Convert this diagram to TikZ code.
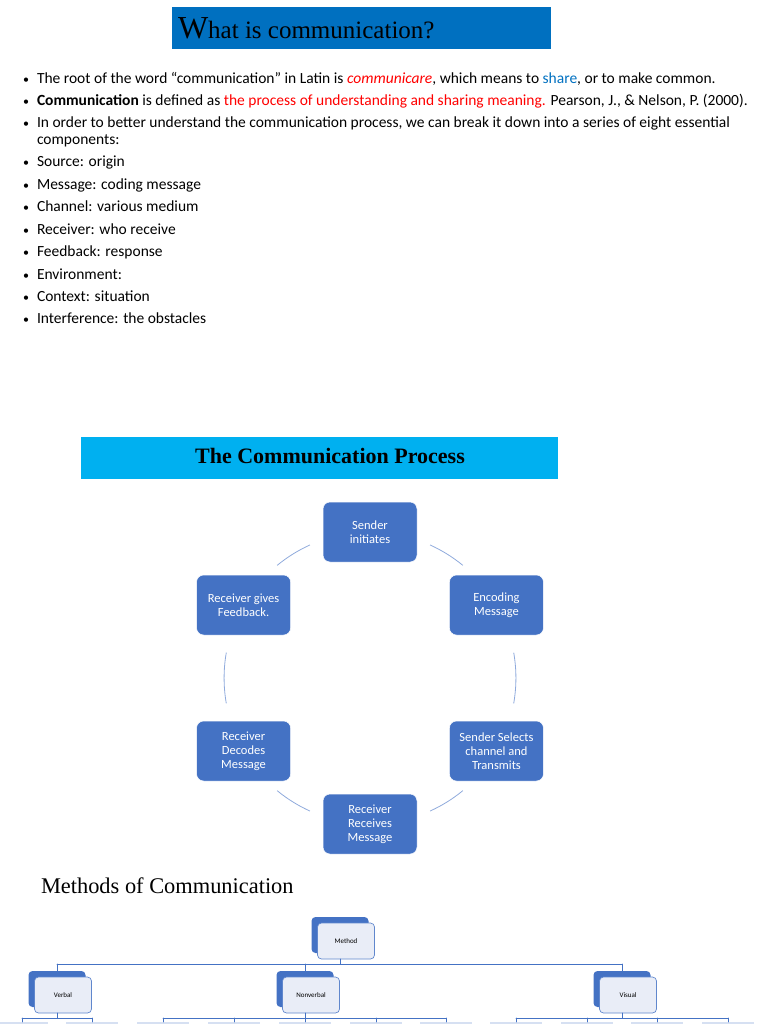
\documentclass[tikz,border=0pt]{standalone}
\usepackage{fontspec}
\setmainfont{Carlito}
\newfontfamily\timesfont{Liberation Serif}
\usetikzlibrary{positioning}
\definecolor{titleblue}{HTML}{0070C0}
\definecolor{headcyan}{HTML}{00B0F0}
\definecolor{stageblue}{HTML}{4472C4}
\definecolor{arcblue}{HTML}{8FAADC}
\definecolor{paleblue}{HTML}{E9EDF7}
\begin{document}
\begin{tikzpicture}[
	x=1pt, y=1pt,
	line cap=round,
	line join=round,
	every node/.style={inner sep=0pt, outer sep=0pt},
	bulletline/.style={anchor=base west, align=left, font=\fontsize{15.5}{17}\selectfont},
	bulletdot/.style={anchor=base west, font=\fontsize{12}{12}\selectfont},
	stage/.style={
		shape=rectangle,
		rounded corners=7pt,
		minimum width=94pt,
		minimum height=60pt,
		fill=stageblue,
		draw=white,
		line width=0.5pt,
		text=white,
		align=center,
		font=\fontsize{12.5}{14}\selectfont
	},
	cyclearc/.style={draw=arcblue, line width=0.8pt, line cap=butt, bend left=30, looseness=0.912},
	backbox/.style={fill=stageblue, rounded corners=4pt, minimum width=57pt, minimum height=36pt},
	frontbox/.style={fill=paleblue, draw=stageblue!85, line width=0.7pt, rounded corners=4pt,
		minimum width=57pt, minimum height=36pt, font=\fontsize{7}{8}\selectfont},
	leafbox/.style={fill=stageblue!22, anchor=north, minimum width=52pt, minimum height=10pt},
	tree/.style={draw=stageblue, line width=0.8pt}
	]
	\useasboundingbox (0,0) rectangle (768,-1024);
	
	% heading and bullet list
	\node [fill=titleblue, anchor=north west, minimum width=379pt, minimum height=42pt] (whatbox) at (172,-7) {};
	\node [anchor=base west] (whattitle) at (178,-39)
	{\timesfont\fontsize{32}{32}\selectfont W\fontsize{25}{25}\selectfont hat is communication?};
	
	\node [bulletline] (root) at (37,-84) {The root of the word “communication” in Latin is
		\textcolor{red}{\textit{communicare}}, which means to \textcolor{titleblue}{share}, or to make common.};
	\node [bulletline] (defined) at (37,-106) {\textbf{Communication} is defined as
		\textcolor{red}{the process of understanding and sharing meaning.} Pearson, J., \& Nelson, P. (2000).};
	\node [bulletline] (order) at (37,-145) {In order to better understand the communication process, we can break it down into a series of eight essential\\components:};
	\foreach \part [count=\i, evaluate={\y=-167-(\i-1)*22.4;}] in
	{Source: origin, Message: coding message, Channel: various medium, Receiver: who receive,
		Feedback: response, Environment:, Context: situation, Interference: the obstacles}{
		\node [bulletline] (part\i) at (37,\y) {\part};
	}
	\foreach \y [count=\i] in {84,106,128,167,189.4,211.8,234.2,256.6,279,301.4,323.8}{
		\node [bulletdot] (dot\i) at (23,-\y) {•};
	}
	
	% communication process
	\node [fill=headcyan, anchor=north west, minimum width=477pt, minimum height=42pt] (procbox) at (81,-437) {};
	\node [anchor=base, font=\timesfont\bfseries\fontsize{22}{22}\selectfont] (proctitle) at (330,-463) {The Communication Process};
	
	\begin{scope}[shift={(370,-678)}]
	\foreach \name/\a/\txt in {send/90/{Sender\\initiates}, encode/30/{Encoding\\Message},
		select/-30/{Sender Selects\\channel and\\Transmits}, receive/-90/{Receiver\\Receives\\Message},
		decode/-150/{Receiver\\Decodes\\Message}, feedback/150/{Receiver gives\\Feedback.}}{
		\node [stage] (\name) at (\a:146) {\txt};
	}
	\end{scope}
	% only the middle of each arc shows
	\foreach \from/\to/\gap/\len [evaluate={\ph=\len+300-\gap;}] in {send/encode/61.9/38.7,
		encode/select/51/51, select/receive/52.2/38.7, receive/decode/61.9/38.7,
		decode/feedback/51/51, feedback/send/52.2/38.7}{
		\draw [cyclearc, dash pattern=on \len pt off 300pt, dash phase=\ph pt] (\from.center) to (\to.center);
	}
	
	% methods of communication
	\node [anchor=base west, font=\timesfont\fontsize{22.4}{22}\selectfont] (methods) at (41,-893) {Methods of Communication};
	
	\node [backbox] (mback) at (340,-935) {};
	\node [frontbox] (mfront) at ([xshift=6pt, yshift=-6pt]mback.center) {Method};
	\foreach \name/\x/\txt in {verbal/57/Verbal, nonverbal/305/Nonverbal, visual/622/Visual}{
		\node [backbox] (\name back) at (\x,-989) {};
		\node [frontbox] (\name) at ([xshift=6pt, yshift=-6pt]\name back.center) {\txt};
	}
	\coordinate (topbus) at (0,-964);
	\coordinate (kidbus) at (0,-1018);
	\draw [tree] (mback |- mfront.south) -- (mback |- topbus);
	\draw [tree] (verbalback |- topbus) -- (visualback |- topbus);
	\foreach \kid in {verbalback, nonverbalback, visualback}{
		\draw [tree] (\kid |- topbus) -- (\kid.north);
		\draw [tree] (\kid |- verbal.south) -- (\kid |- kidbus);
	}
	
	\foreach \x [count=\i] in {22,92,163,234,305,376,446,516,587,657,728}{
		\node [leafbox] (leaf\i) at (\x,-1022) {};
	}
	\draw [tree] (leaf1 |- kidbus) -- (leaf2 |- kidbus);
	\draw [tree] (leaf3 |- kidbus) -- (leaf7 |- kidbus);
	\draw [tree] (leaf8 |- kidbus) -- (leaf11 |- kidbus);
	\foreach \i in {1,...,11}{
		\draw [tree] (leaf\i |- kidbus) -- (leaf\i.north);
	}
	
\end{tikzpicture}
\end{document}
